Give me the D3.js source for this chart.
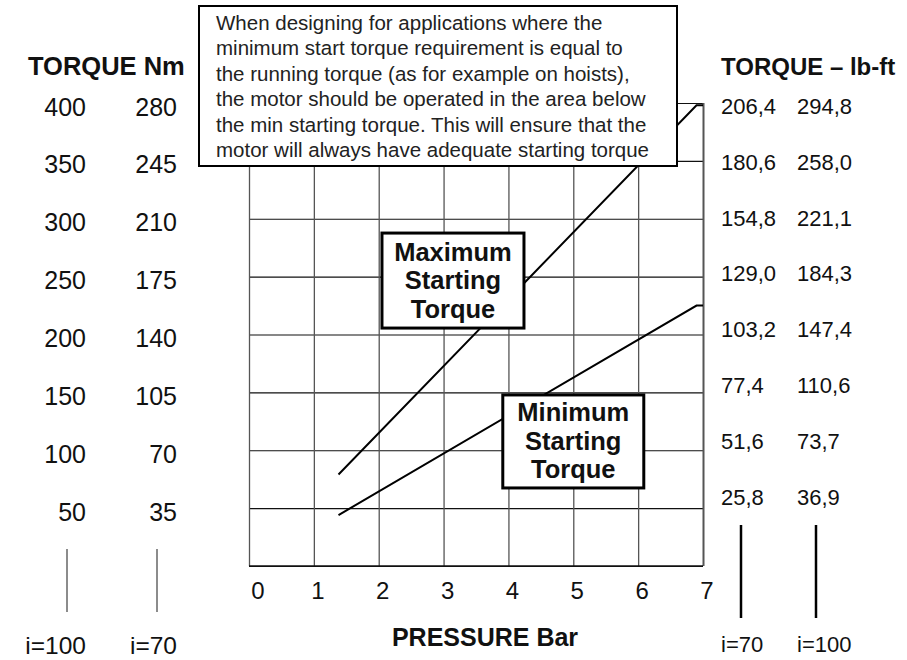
<!DOCTYPE html>
<html>
<head>
<meta charset="utf-8">
<script src="https://cdn.jsdelivr.net/npm/d3@7"></script>
<style>
    body { margin: 0; background: white; }
    text { font-family: "Liberation Sans", Arial, Helvetica, sans-serif; fill: #111; }
</style>
</head>
<body>
<div id="chartBox"></div>
<script>

// pressure axis ticks (bar)
var pressureTicks = [0, 1, 2, 3, 4, 5, 6, 7];

// left tick labels, torque in Nm for ratio i=100 and i=70
var torqueNm100 = [400, 350, 300, 250, 200, 150, 100, 50];
var torqueNm70 = [280, 245, 210, 175, 140, 105, 70, 35];

// right tick labels, torque in lb-ft for ratio i=70 and i=100
var torqueLb70 = [206.4, 180.6, 154.8, 129.0, 103.2, 77.4, 51.6, 25.8];
var torqueLb100 = [294.8, 258.0, 221.1, 184.3, 147.4, 110.6, 73.7, 36.9];

// starting torque curves (pressure bar, torque Nm at i=100)
var maxTorque = [
    {p: 1.38, t: 79},
    {p: 6.9, t: 398},
    {p: 7.0, t: 398}
];
var minTorque = [
    {p: 1.38, t: 44},
    {p: 6.9, t: 225},
    {p: 7.0, t: 225}
];

var noteLines = [
    "When designing for applications where the",
    "minimum start torque requirement is equal to",
    "the running torque (as for example on hoists),",
    "the motor should be operated in the area below",
    "the min starting torque. This will ensure that the",
    "motor will always have adequate starting torque"
];

var maxLabel = ["Maximum", "Starting", "Torque"];
var minLabel = ["Minimum", "Starting", "Torque"];

var width = 907,
    height = 660;

var svg = d3.select("#chartBox").append("svg")
    .attr("width", width)
    .attr("height", height);

var x = d3.scaleLinear().domain([0, 7]).range([249, 703]);
var y = d3.scaleLinear().domain([0, 400]).range([566, 103]);

// right hand labels sit on a slightly compressed scale in the original
var yRight = d3.scaleLinear().domain([50, 400]).range([497, 106]);

var fmtComma = function(v) {
    return d3.format(".1f")(v).replace(".", ",");
};

// grid: horizontal lines
var hGrid = svg.append("g")
    .attr("transform", "translate(" + x(0) + ",0)")
    .call(d3.axisLeft(y)
        .tickValues(d3.range(0, 401, 50))
        .tickSize(-(x(7) - x(0)))
        .tickFormat(""));
hGrid.select(".domain").remove();
hGrid.selectAll("line").attr("stroke", "#111").attr("stroke-width", 1.2);

// grid: vertical lines
var vGrid = svg.append("g")
    .attr("transform", "translate(0," + y(0) + ")")
    .call(d3.axisBottom(x)
        .tickValues(pressureTicks)
        .tickSize(-(y(0) - y(400)))
        .tickFormat(""));
vGrid.select(".domain").remove();
vGrid.selectAll("line")
    .attr("stroke", "#555")
    .attr("stroke-width", function(d) { return d == 7 ? 2 : 1.3; });

// bottom border
svg.append("line")
    .attr("x1", x(0)).attr("x2", x(7))
    .attr("y1", y(0)).attr("y2", y(0))
    .attr("stroke", "#111").attr("stroke-width", 1.5);

// curves
var line = d3.line()
    .x(function(d) { return x(d.p); })
    .y(function(d) { return y(d.t); });

[maxTorque, minTorque].forEach(function(series) {
    svg.append("path")
        .datum(series)
        .attr("d", line)
        .attr("fill", "none")
        .attr("stroke", "#000")
        .attr("stroke-width", 2);
});

// labelled boxes on the curves
function labelBox(lines, cx, cy, w, h) {
    var g = svg.append("g")
        .attr("transform", "translate(" + cx + "," + cy + ")");
    g.append("rect")
        .attr("x", -w / 2).attr("y", -h / 2)
        .attr("width", w).attr("height", h)
        .attr("fill", "white")
        .attr("stroke", "#000")
        .attr("stroke-width", 3);
    g.selectAll("text")
        .data(lines)
        .enter().append("text")
        .attr("text-anchor", "middle")
        .attr("x", 0)
        .attr("y", function(d, i) { return -20 + i * 28.5; })
        .attr("font-size", 25.5)
        .attr("font-weight", "bold")
        .text(function(d) { return d; });
}

labelBox(maxLabel, x(3.145), y(246.6), 142, 95);
labelBox(minLabel, x(5.0), y(107.6), 141, 93);

// note box at the top
var note = svg.append("g");
note.append("rect")
    .attr("x", 199).attr("y", 6)
    .attr("width", 478).attr("height", 160)
    .attr("fill", "white")
    .attr("stroke", "#000")
    .attr("stroke-width", 2);
note.selectAll("text")
    .data(noteLines)
    .enter().append("text")
    .attr("x", 216)
    .attr("y", function(d, i) { return 30 + i * 25.4; })
    .attr("font-size", 20.5)
    .style("fill", "#222")
    .text(function(d) { return d; });

// x tick labels
svg.selectAll("text.xTick")
    .data(pressureTicks)
    .enter().append("text")
    .attr("class", "xTick")
    .attr("text-anchor", "middle")
    .attr("x", function(d) { return x(d) + (d == 0 ? 9 : 4); })
    .attr("y", 599)
    .attr("font-size", 24)
    .text(function(d) { return d; });

svg.append("text")
    .attr("x", 485).attr("y", 646)
    .attr("text-anchor", "middle")
    .attr("font-size", 25)
    .attr("font-weight", "bold")
    .text("PRESSURE Bar");

// left axis labels
svg.append("text")
    .attr("x", 28).attr("y", 75)
    .attr("font-size", 25.5)
    .attr("font-weight", "bold")
    .text("TORQUE Nm");

var leftCols = [
    {values: torqueNm100, right: 86, ratio: "i=100", lx: 67},
    {values: torqueNm70, right: 177, ratio: "i=70", lx: 157}
];

leftCols.forEach(function(col) {
    svg.selectAll(null)
        .data(col.values)
        .enter().append("text")
        .attr("text-anchor", "end")
        .attr("x", col.right)
        .attr("y", function(d, i) { return y(torqueNm100[i]) + 12.5; })
        .attr("font-size", 25)
        .text(function(d) { return d; });

    svg.append("line")
        .attr("x1", col.lx).attr("x2", col.lx)
        .attr("y1", 549).attr("y2", 612)
        .attr("stroke", "#666").attr("stroke-width", 1.5);

    svg.append("text")
        .attr("text-anchor", "end")
        .attr("x", col.right).attr("y", 654)
        .attr("font-size", 24.5)
        .text(col.ratio);
});

// right axis labels
svg.append("text")
    .attr("x", 721).attr("y", 75)
    .attr("font-size", 24)
    .attr("font-weight", "bold")
    .text("TORQUE \u2013 lb-ft");

var rightCols = [
    {values: torqueLb70, left: 721, ratio: "i=70", lx: 741},
    {values: torqueLb100, left: 797, ratio: "i=100", lx: 816}
];

rightCols.forEach(function(col) {
    svg.selectAll(null)
        .data(col.values)
        .enter().append("text")
        .attr("x", col.left)
        .attr("y", function(d, i) { return yRight(torqueNm100[i]) + 7.8; })
        .attr("font-size", 22)
        .text(function(d) { return fmtComma(d); });

    svg.append("line")
        .attr("x1", col.lx).attr("x2", col.lx)
        .attr("y1", 525).attr("y2", 618)
        .attr("stroke", "#000").attr("stroke-width", 2.5);

    svg.append("text")
        .attr("x", col.left).attr("y", 652)
        .attr("font-size", 22)
        .text(col.ratio);
});

</script>
</body>
</html>
